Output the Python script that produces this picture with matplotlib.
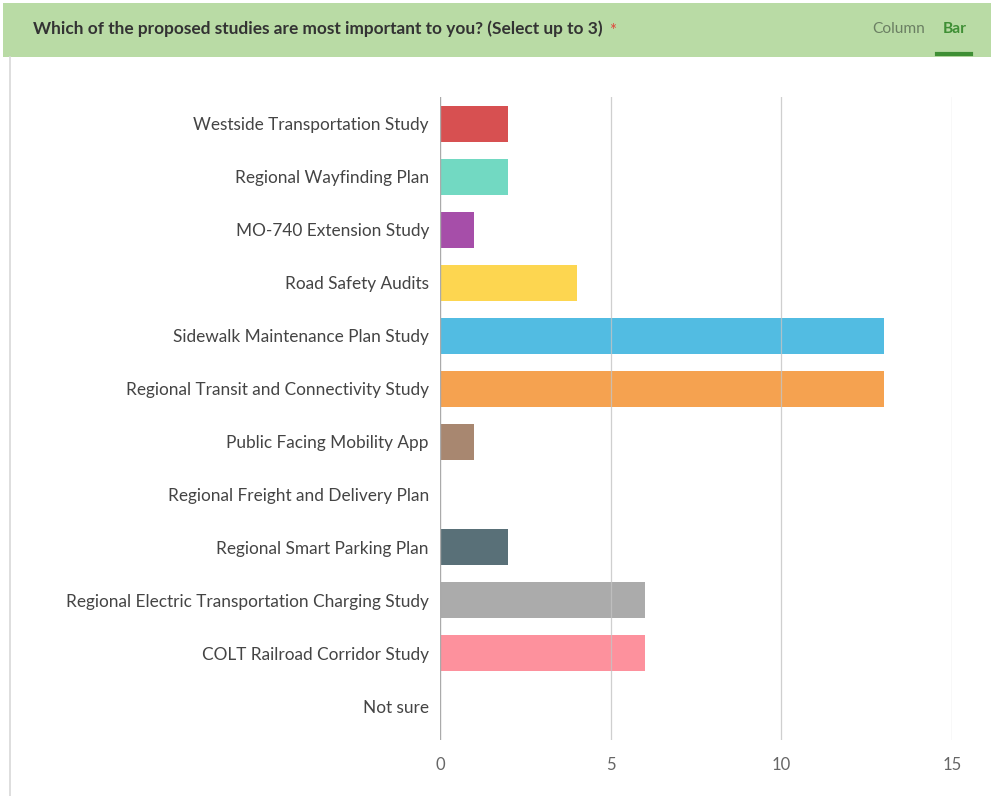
import matplotlib
matplotlib.use("Agg")
import matplotlib.pyplot as plt
from matplotlib.patches import Rectangle
from matplotlib.lines import Line2D

W, H, DPI = 991, 796, 100

TITLE = "Which of the proposed studies are most important to you? (Select up to 3)"

studies = [
    "Westside Transportation Study",
    "Regional Wayfinding Plan",
    "MO-740 Extension Study",
    "Road Safety Audits",
    "Sidewalk Maintenance Plan Study",
    "Regional Transit and Connectivity Study",
    "Public Facing Mobility App",
    "Regional Freight and Delivery Plan",
    "Regional Smart Parking Plan",
    "Regional Electric Transportation Charging Study",
    "COLT Railroad Corridor Study",
    "Not sure",
]
counts = [2, 2, 1, 4, 13, 13, 1, 0, 2, 6, 6, 0]
colors = [
    "#d64a4b", "#6dd8c0", "#a348a6", "#fdd54a", "#4cbae1", "#f59f4a",
    "#a5836b", "#7aa5c8", "#546b74", "#a8a8a8", "#fd8e9a", "#cccccc",
]
xticks = [0, 5, 10, 15]

FONT = "Lato"

fig = plt.figure(figsize=(W / DPI, H / DPI), dpi=DPI)
fig.patch.set_facecolor("white")

# header band
fig.add_artist(Rectangle((3 / W, 1 - 57 / H), 1, 54 / H, transform=fig.transFigure,
                         facecolor="#b9dba5", edgecolor="none", zorder=0))
fig.text(33 / W, 1 - 29 / H, TITLE, ha="left", va="center", fontsize=12.4,
         fontweight="bold", color="#333333", family=FONT)
fig.text(609 / W, 1 - 31 / H, "*", ha="left", va="center", fontsize=12,
         color="#e0463c", family=FONT)
fig.text(899 / W, 1 - 29 / H, "Column", ha="center", va="center", fontsize=11.2,
         color="#6b7f63", family=FONT)
fig.text(955 / W, 1 - 29 / H, "Bar", ha="center", va="center", fontsize=11.2,
         color="#3f8f35", fontweight="bold", family=FONT)
fig.add_artist(Line2D([937 / W, 971 / W], [1 - 54 / H, 1 - 54 / H], transform=fig.transFigure,
                      color="#3f8f35", linewidth=3))
# left border of the panel
fig.add_artist(Line2D([10 / W, 10 / W], [0, 1 - 57 / H], transform=fig.transFigure,
                      color="#d8d8d8", linewidth=1.2))

ax = fig.add_axes([440 / W, 1 - 740 / H, (952 - 440) / W, (740 - 97) / H])
ypos = list(range(len(studies)))
ax.barh(ypos, counts, height=0.68, color=colors, alpha=0.97, zorder=2)
ax.set_xlim(0, 15)
ax.set_ylim(11.64, -0.51)
ax.set_yticks(ypos)
ax.set_yticklabels(studies, fontsize=12.4, color="#444444", family=FONT)
ax.set_xticks(xticks)
ax.set_xticklabels([str(t) for t in xticks], fontsize=12, color="#666666", family=FONT)
ax.tick_params(axis="both", length=0)
ax.tick_params(axis="y", pad=8)
ax.tick_params(axis="x", pad=12)
for t in xticks[1:]:
    ax.axvline(t, color="#c4c4c4", linewidth=0.9, alpha=0.8, zorder=3)
ax.axvline(0, color="#aaaaaa", linewidth=1.0, zorder=3)
for s in ax.spines.values():
    s.set_visible(False)

fig.savefig("out.png", dpi=DPI, facecolor="white")
